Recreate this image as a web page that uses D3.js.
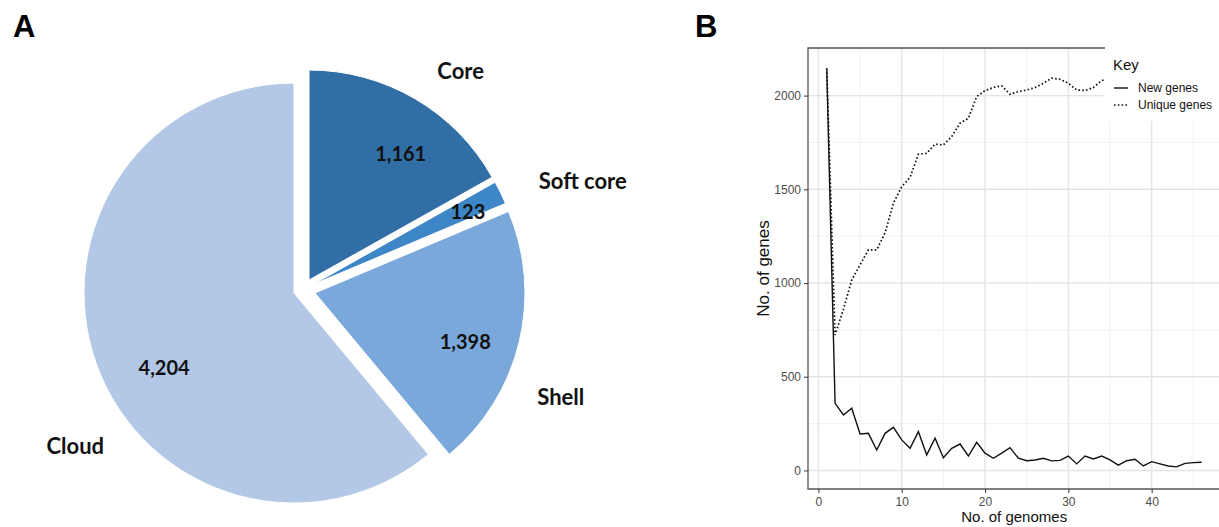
<!DOCTYPE html>
<html>
<head>
<meta charset="utf-8">
<script src="https://cdn.jsdelivr.net/npm/d3@7"></script>
<style>
  body { margin: 0; background: #ffffff; }
</style>
</head>
<body>
<div id="viz"></div>
<script>

// pie (A)
const pieCategories = ["Core", "Soft core", "Shell", "Cloud"]
const pieValues = [1161, 123, 1398, 4204]
const pieValueLabels = ["1,161", "123", "1,398", "4,204"]

// lines (B)
const genomes = [1, 2, 3, 4, 5, 6, 7, 8, 9, 10, 11, 12, 13, 14, 15, 16, 17, 18, 19, 20,
  21, 22, 23, 24, 25, 26, 27, 28, 29, 30, 31, 32, 33, 34, 35, 36, 37, 38, 39, 40,
  41, 42, 43, 44, 45, 46]
const newGenes = [2145, 358, 296, 332, 195, 198, 109, 198, 230, 163, 118, 207, 83, 172, 68, 118, 141, 77, 150, 92,
  65, 92, 122, 65, 52, 56, 65, 51, 54, 77, 35, 77, 61, 77, 56, 28, 52, 60, 24, 47,
  35, 24, 19, 38, 42, 44]
// unique genes: visible part only, the rest sits under the legend
const uniqueGenes = [2145, 723, 860, 1016, 1097, 1177, 1177, 1267, 1426, 1514, 1564, 1687, 1692, 1741, 1737, 1781, 1853, 1879, 1995, 2027,
  2043, 2052, 2007, 2021, 2030, 2043, 2066, 2093, 2087, 2066, 2030, 2027, 2043, 2080, 2090]
const xTicks = [0, 10, 20, 30, 40]
const yTicks = [0, 500, 1000, 1500, 2000]
const legendKeys = ["New genes", "Unique genes"]

document.addEventListener("DOMContentLoaded", () => {

  const width = 1219
  const height = 527

  const svg = d3.select("#viz").append("svg")
  .attr("width", width)
  .attr("height", height)
  .style("background-color", "#ffffff")

  // ====================
  // A: pie
  // ====================

  const pieFont = "Lato, 'Open Sans', sans-serif"
  const cx = 294
  const cy = 293
  const radius = 210

  const pieColors = d3.scaleOrdinal()
  .domain(pieCategories)
  .range(["#316ea6", "#3d86c7", "#7ba8db", "#b3c8e7"])

  // explode shift of each slice (px)
  const explode = {
    "Core": [15, -13],
    "Soft core": [18, -8],
    "Shell": [21, 0],
    "Cloud": [0, 0]
  }
  // label spots, polar from the slice tip: [angle deg, radius]
  const valueSpot = {
    "Core": [36, 156],
    "Soft core": [65, 172],
    "Shell": [108, 158],
    "Cloud": [240, 150]
  }
  const nameSpot = {
    "Core": [36, 258],
    "Soft core": [69, 290],
    "Shell": [113, 267],
    "Cloud": [235, 267]
  }

  const pie = d3.pie().sort(null).value(d => d.value)
  const arcs = pie(pieCategories.map((c, i) => ({ name: c, value: pieValues[i], label: pieValueLabels[i] })))

  const arcGen = d3.arc().innerRadius(0).outerRadius(radius)

  const slices = svg.append("g")
  .selectAll("g")
  .data(arcs)
  .enter()
  .append("g")
  .attr("transform", d => `translate(${cx + explode[d.data.name][0]},${cy + explode[d.data.name][1]})`)

  slices.append("path")
  .attr("d", arcGen)
  .attr("fill", d => pieColors(d.data.name))
  .attr("stroke", "#ffffff")
  .attr("stroke-width", 1)

  const polar = (spot) => {
    const a = spot[0] * Math.PI / 180
    return [spot[1] * Math.sin(a), -spot[1] * Math.cos(a)]
  }

  slices.append("text")
  .attr("x", d => polar(valueSpot[d.data.name])[0])
  .attr("y", d => polar(valueSpot[d.data.name])[1])
  .attr("dy", "0.35em")
  .attr("text-anchor", "middle")
  .attr("font-family", pieFont)
  .attr("font-weight", "700")
  .attr("font-size", 20)
  .attr("fill", "#111111")
  .text(d => d.data.label)

  slices.append("text")
  .attr("x", d => polar(nameSpot[d.data.name])[0])
  .attr("y", d => polar(nameSpot[d.data.name])[1])
  .attr("dy", "0.35em")
  .attr("text-anchor", "middle")
  .attr("font-family", pieFont)
  .attr("font-weight", "700")
  .attr("font-size", 22)
  .attr("fill", "#111111")
  .text(d => d.data.name)

  svg.append("text")
  .attr("x", 13)
  .attr("y", 37)
  .attr("font-family", "'Liberation Sans', Arial, sans-serif")
  .attr("font-weight", "700")
  .attr("font-size", 31)
  .text("A")

  svg.append("text")
  .attr("x", 695)
  .attr("y", 37)
  .attr("font-family", "'Liberation Sans', Arial, sans-serif")
  .attr("font-weight", "700")
  .attr("font-size", 31)
  .text("B")

  // ====================
  // B: new / unique genes
  // ====================

  const plotFont = "'Liberation Sans', Arial, sans-serif"
  const left = 808
  const right = 1220.4
  const top = 48
  const bottom = 489

  const x = d3.scaleLinear().domain([-1.25, 48.25]).range([left, right])
  const y = d3.scaleLinear().domain([-99, 2254]).range([bottom, top])

  const grid = svg.append("g")

  grid.selectAll(".minorx")
  .data(d3.range(5, 50, 10))
  .enter()
  .append("line")
  .attr("x1", d => x(d)).attr("x2", d => x(d))
  .attr("y1", top).attr("y2", bottom)
  .attr("stroke", "#f0f0f0")
  .attr("stroke-width", 0.9)

  grid.selectAll(".minory")
  .data(d3.range(250, 2500, 500))
  .enter()
  .append("line")
  .attr("x1", left).attr("x2", right)
  .attr("y1", d => y(d)).attr("y2", d => y(d))
  .attr("stroke", "#f0f0f0")
  .attr("stroke-width", 0.9)

  grid.selectAll(".majorx")
  .data(xTicks)
  .enter()
  .append("line")
  .attr("x1", d => x(d)).attr("x2", d => x(d))
  .attr("y1", top).attr("y2", bottom)
  .attr("stroke", "#e4e4e4")
  .attr("stroke-width", 1.4)

  grid.selectAll(".majory")
  .data(yTicks)
  .enter()
  .append("line")
  .attr("x1", left).attr("x2", right)
  .attr("y1", d => y(d)).attr("y2", d => y(d))
  .attr("stroke", "#e4e4e4")
  .attr("stroke-width", 1.4)

  const line = d3.line()
  .x(d => x(d[0]))
  .y(d => y(d[1]))

  svg.append("path")
  .datum(uniqueGenes.map((v, i) => [genomes[i], v]))
  .attr("d", line)
  .attr("fill", "none")
  .attr("stroke", "#111111")
  .attr("stroke-width", 1.7)
  .attr("stroke-dasharray", "1.6,2.2")

  svg.append("path")
  .datum(newGenes.map((v, i) => [genomes[i], v]))
  .attr("d", line)
  .attr("fill", "none")
  .attr("stroke", "#111111")
  .attr("stroke-width", 1.4)

  // panel border (right edge falls off the picture)
  svg.append("path")
  .attr("d", `M${right},${bottom}H${left}V${top}H${right}`)
  .attr("fill", "none")
  .attr("stroke", "#555555")
  .attr("stroke-width", 1.3)

  const yAxis = svg.append("g")
  .attr("transform", `translate(${left},0)`)
  .call(d3.axisLeft(y).tickValues(yTicks).tickFormat(d3.format("d")).tickSize(4).tickPadding(3))

  const xAxis = svg.append("g")
  .attr("transform", `translate(0,${bottom})`)
  .call(d3.axisBottom(x).tickValues(xTicks).tickFormat(d3.format("d")).tickSize(4).tickPadding(4))

  svg.selectAll(".domain").remove()
  svg.selectAll(".tick line").attr("stroke", "#444444").attr("stroke-width", 1.1)
  svg.selectAll(".tick text")
  .attr("font-family", plotFont)
  .attr("font-size", 12)
  .attr("fill", "#4d4d4d")

  svg.append("text")
  .attr("x", (left + right) / 2)
  .attr("y", 522)
  .attr("text-anchor", "middle")
  .attr("font-family", plotFont)
  .attr("font-size", 15)
  .attr("fill", "#111111")
  .text("No. of genomes")

  svg.append("text")
  .attr("transform", `translate(769,${(top + bottom) / 2}) rotate(-90)`)
  .attr("text-anchor", "middle")
  .attr("font-family", plotFont)
  .attr("font-size", 17)
  .attr("fill", "#111111")
  .text("No. of genes")

  // legend
  const legend = svg.append("g")

  legend.append("rect")
  .attr("x", 1105)
  .attr("y", 40)
  .attr("width", 120)
  .attr("height", 81)
  .attr("fill", "#ffffff")

  legend.append("text")
  .attr("x", 1113)
  .attr("y", 70)
  .attr("font-family", plotFont)
  .attr("font-size", 15)
  .attr("fill", "#111111")
  .text("Key")

  const keys = legend.selectAll(".key")
  .data(legendKeys)
  .enter()
  .append("g")
  .attr("transform", (d, i) => `translate(1114,${88 + i * 17})`)

  keys.append("line")
  .attr("x1", 0).attr("x2", 14)
  .attr("y1", 0).attr("y2", 0)
  .attr("stroke", "#111111")
  .attr("stroke-width", (d, i) => i === 0 ? 1.4 : 1.7)
  .attr("stroke-dasharray", (d, i) => i === 0 ? null : "1.6,2.2")

  keys.append("text")
  .attr("x", 24)
  .attr("y", 0)
  .attr("dy", "0.35em")
  .attr("font-family", plotFont)
  .attr("font-size", 12)
  .attr("fill", "#111111")
  .text(d => d)

})
</script>
</body>
</html>
